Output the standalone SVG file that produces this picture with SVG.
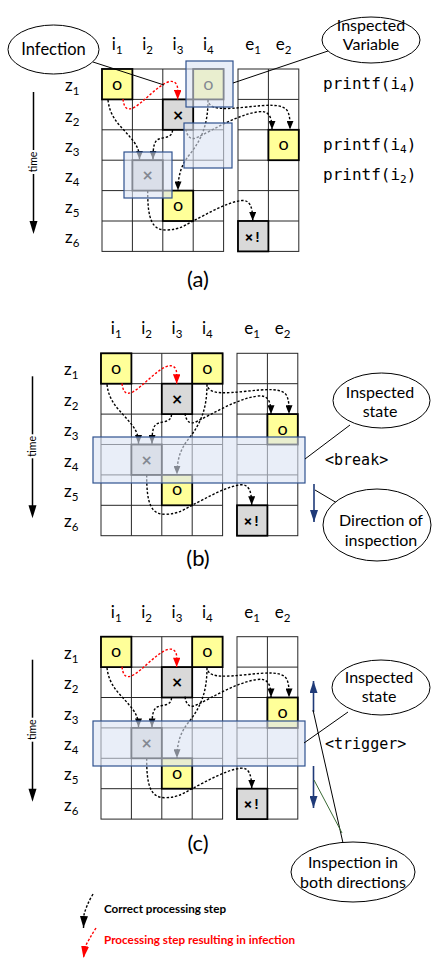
<svg xmlns="http://www.w3.org/2000/svg" width="433" height="959" viewBox="0 0 433 959">
  <style>
    .grid { fill: none; stroke: #262626; stroke-width: 1; }
    .cell-y { fill: #FFFF99; stroke: #000; stroke-width: 1.8; }
    .cell-g { fill: #D9D9D9; stroke: #000; stroke-width: 1.8; }
    .lbl { font-family: Lato, "Open Sans", "Liberation Sans", sans-serif; fill: #000; }
    .mono { font-family: "DejaVu Sans Mono", "Liberation Mono", monospace; fill: #000; }
    .mark { font-family: "DejaVu Sans", "Liberation Sans", sans-serif; font-weight: bold; fill: #000; }
    .flow { fill: none; stroke: #000; stroke-width: 1.4; stroke-dasharray: 2.4 1.8; }
    .flow-red { stroke: #FF0000; }
    .hl { fill: #DAE3F3; fill-opacity: 0.6; stroke: #2F528F; stroke-width: 1.2; }
    .call { fill: #fff; stroke: #000; stroke-width: 1; }
    .lead { fill: none; stroke: #000; stroke-width: 1; }
    .dir { stroke: #1F3A78; stroke-width: 1.6; }
  </style>
  <defs>
    <marker id="ah" viewBox="0 0 10 8" refX="10" refY="4" markerWidth="9" markerHeight="7" markerUnits="userSpaceOnUse" orient="auto">
      <path d="M0,0 L10,4 L0,8 z" fill="#000"/>
    </marker>
    <marker id="ah-red" viewBox="0 0 10 8" refX="10" refY="4" markerWidth="10" markerHeight="7.5" markerUnits="userSpaceOnUse" orient="auto">
      <path d="M0,0 L10,4 L0,8 z" fill="#FF0000"/>
    </marker>
    <marker id="ah-leg" viewBox="0 0 12 8" refX="12" refY="4" markerWidth="12" markerHeight="8" markerUnits="userSpaceOnUse" orient="auto">
      <path d="M0,0 L12,4 L0,8 z" fill="#000"/>
    </marker>
    <marker id="ah-leg-red" viewBox="0 0 12 8" refX="12" refY="4" markerWidth="12" markerHeight="8" markerUnits="userSpaceOnUse" orient="auto">
      <path d="M0,0 L12,4 L0,8 z" fill="#FF0000"/>
    </marker>
    <marker id="ah-navy" viewBox="0 0 12 8" refX="12" refY="4" markerWidth="12" markerHeight="8" markerUnits="userSpaceOnUse" orient="auto">
      <path d="M0,0 L12,4 L0,8 z" fill="#1F3A78"/>
    </marker>

    <!-- One execution grid: inputs i1..i4, outputs e1..e2, time steps z1..z6 -->
    <g id="exec-grid">
      <g id="time-axis" class="lbl">
        <line x1="-68.5" y1="23" x2="-68.5" y2="81" stroke="#000" stroke-width="1.5"/>
        <line x1="-68.5" y1="105" x2="-68.5" y2="153" stroke="#000" stroke-width="1.5"/>
        <polygon points="-72.5,152 -64.5,152 -68.5,165" fill="#000"/>
        <text transform="translate(-65,93) rotate(-90)" text-anchor="middle" font-size="10.5">time</text>
      </g>
      <g id="col-heads" class="lbl" font-size="17" text-anchor="middle">
        <text x="15.2" y="-19">i<tspan font-size="11.5" dy="4">1</tspan></text>
        <text x="45.6" y="-19">i<tspan font-size="11.5" dy="4">2</tspan></text>
        <text x="76" y="-19">i<tspan font-size="11.5" dy="4">3</tspan></text>
        <text x="106.4" y="-19">i<tspan font-size="11.5" dy="4">4</tspan></text>
        <text x="151.2" y="-19">e<tspan font-size="11.5" dy="4">1</tspan></text>
        <text x="181.6" y="-19">e<tspan font-size="11.5" dy="4">2</tspan></text>
      </g>
      <g id="row-heads" class="lbl" font-size="17">
        <text x="-37" y="22">z<tspan font-size="11.5" dy="4">1</tspan></text>
        <text x="-37" y="52.5">z<tspan font-size="11.5" dy="4">2</tspan></text>
        <text x="-37" y="83">z<tspan font-size="11.5" dy="4">3</tspan></text>
        <text x="-37" y="113.4">z<tspan font-size="11.5" dy="4">4</tspan></text>
        <text x="-37" y="143.8">z<tspan font-size="11.5" dy="4">5</tspan></text>
        <text x="-37" y="174.2">z<tspan font-size="11.5" dy="4">6</tspan></text>
      </g>
      <g id="grid-lines" class="grid">
        <rect x="0" y="0" width="121.6" height="182.4"/>
        <path d="M30.4,0V182.4M60.8,0V182.4M91.2,0V182.4M0,30.4H121.6M0,60.8H121.6M0,91.2H121.6M0,121.6H121.6M0,152H121.6"/>
        <rect x="136" y="0" width="60.8" height="182.4"/>
        <path d="M166.4,0V182.4M136,30.4H196.8M136,60.8H196.8M136,91.2H196.8M136,121.6H196.8M136,152H196.8"/>
      </g>
      <g id="cells">
        <g id="cell-i1-z1"><rect class="cell-y" x="0" y="0" width="30.4" height="30.4"/><text class="lbl" x="15.2" y="20.5" font-size="18" text-anchor="middle">o</text></g>
        <g id="cell-i4-z1"><rect class="cell-y" x="91.2" y="0" width="30.4" height="30.4"/><text class="lbl" x="106.4" y="20.5" font-size="18" text-anchor="middle">o</text></g>
        <g id="cell-i3-z2"><rect class="cell-g" x="60.8" y="30.4" width="30.4" height="30.4"/><text class="mark" x="76" y="50.5" font-size="14" text-anchor="middle">×</text></g>
        <g id="cell-e2-z3"><rect class="cell-y" x="166.4" y="60.8" width="30.4" height="30.4"/><text class="lbl" x="181.6" y="81.3" font-size="18" text-anchor="middle">o</text></g>
        <g id="cell-i2-z4"><rect class="cell-g" x="30.4" y="91.2" width="30.4" height="30.4"/><text class="mark" x="45.6" y="111.3" font-size="14" text-anchor="middle">×</text></g>
        <g id="cell-i3-z5"><rect class="cell-y" x="60.8" y="121.6" width="30.4" height="30.4"/><text class="lbl" x="76" y="142.1" font-size="18" text-anchor="middle">o</text></g>
        <g id="cell-e1-z6"><rect class="cell-g" x="136" y="152" width="30.4" height="30.4"/><text class="mono" x="151.2" y="172.5" font-size="14" font-weight="bold" text-anchor="middle">×!</text></g>
      </g>
      <g id="steps">
        <path class="flow flow-red" d="M21,30 C22,39 25,42 32,38.5 C42,33 55,17 66,13 C72,11 75.7,14 75.7,21 L75.7,30.4" marker-end="url(#ah-red)"/>
        <path class="flow" d="M6,31 C8,50 20,58 28,68 C34,75 37.5,80 37.5,90.5" marker-end="url(#ah)"/>
        <path class="flow" d="M70.5,61 C70.5,69 62,68 57,70 C52,72 51,78 51,90.5" marker-end="url(#ah)"/>
        <path class="flow" d="M106,31 C106,55 100,70 88,85 C80,95 76,105 76,121.2" marker-end="url(#ah)"/>
        <path class="flow" d="M107,34 C110,41 125,40 145,38 C165,36 182,34 186,43 C188,48 188,52 188,60.6" marker-end="url(#ah)"/>
        <path class="flow" d="M84,60 C85,68 89,72 96,68 C111,61 135,46 155,43 C166,41 170,46 170,60.6" marker-end="url(#ah)"/>
        <path class="flow" d="M45.7,121.6 C45.5,150 50,161 64,161 C78,161 85,155 91,152 C105,145 125,133 140,131.5 C148,131 150.7,138 150.7,151.8" marker-end="url(#ah)"/>
      </g>
    </g>
  </defs>

  <!-- (a) inspected variables -->
  <g id="panel-a" transform="translate(102,69)">
    <use href="#exec-grid"/>
  </g>
  <g id="panel-a-marks">
    <rect class="hl" x="186" y="61" width="47" height="46"/>
    <rect class="hl" x="184" y="123" width="48" height="45"/>
    <rect class="hl" x="124" y="152" width="48" height="46"/>
    <g class="mono" font-size="16">
      <text x="323" y="89">printf(i<tspan font-size="11" dy="3">4</tspan><tspan dy="-3">)</tspan></text>
      <text x="323" y="150">printf(i<tspan font-size="11" dy="3">4</tspan><tspan dy="-3">)</tspan></text>
      <text x="323" y="180">printf(i<tspan font-size="11" dy="3">2</tspan><tspan dy="-3">)</tspan></text>
    </g>
    <g id="note-infection">
      <line class="lead" x1="93" y1="62" x2="164" y2="85"/>
      <ellipse class="call" cx="53.5" cy="49.5" rx="45.5" ry="24.5"/>
      <text class="lbl" x="53.5" y="55" font-size="16.5" text-anchor="middle">Infection</text>
    </g>
    <g id="note-inspected-variable">
      <line class="lead" x1="328" y1="51" x2="233" y2="83"/>
      <ellipse class="call" cx="371" cy="40" rx="49" ry="23"/>
      <text class="lbl" x="371" y="31" font-size="16" text-anchor="middle">Inspected</text>
      <text class="lbl" x="371" y="50" font-size="16" text-anchor="middle">Variable</text>
    </g>
    <text class="lbl" x="198" y="287" font-size="22" text-anchor="middle">(a)</text>
  </g>

  <!-- (b) breakpoint, forward inspection -->
  <g id="panel-b" transform="translate(101,353.3)">
    <use href="#exec-grid"/>
  </g>
  <g id="panel-b-marks">
    <rect class="hl" x="93" y="437" width="212" height="46"/>
    <text class="mono" x="325" y="465" font-size="15">&lt;break&gt;</text>
    <g id="note-state-b">
      <line class="lead" x1="350" y1="425" x2="305" y2="459"/>
      <ellipse class="call" cx="381.5" cy="400.5" rx="48.5" ry="27.5"/>
      <text class="lbl" x="380" y="398" font-size="16" text-anchor="middle">Inspected</text>
      <text class="lbl" x="380" y="417" font-size="16" text-anchor="middle">state</text>
    </g>
    <line class="dir" x1="314" y1="484" x2="314" y2="522" marker-end="url(#ah-navy)"/>
    <g id="note-direction">
      <line class="lead" x1="315" y1="490" x2="337" y2="503"/>
      <ellipse class="call" cx="377" cy="525" rx="54" ry="36"/>
      <text class="lbl" x="381" y="526" font-size="16" text-anchor="middle">Direction of</text>
      <text class="lbl" x="381" y="546" font-size="16" text-anchor="middle">inspection</text>
    </g>
    <text class="lbl" x="198" y="566" font-size="22" text-anchor="middle">(b)</text>
  </g>

  <!-- (c) trigger, inspection in both directions -->
  <g id="panel-c" transform="translate(101,636.7)">
    <use href="#exec-grid"/>
  </g>
  <g id="panel-c-marks">
    <rect class="hl" x="93" y="721" width="212" height="45"/>
    <text class="mono" x="325" y="749" font-size="15">&lt;trigger&gt;</text>
    <g id="note-state-c">
      <line class="lead" x1="348" y1="712" x2="304" y2="743"/>
      <ellipse class="call" cx="381" cy="687.5" rx="49" ry="27.5"/>
      <text class="lbl" x="379" y="683" font-size="16" text-anchor="middle">Inspected</text>
      <text class="lbl" x="379" y="702" font-size="16" text-anchor="middle">state</text>
    </g>
    <line class="dir" x1="313.5" y1="712" x2="313.5" y2="681" marker-end="url(#ah-navy)"/>
    <line class="dir" x1="313.5" y1="766" x2="313.5" y2="808" marker-end="url(#ah-navy)"/>
    <g id="note-both">
      <line class="lead" x1="313" y1="710" x2="343" y2="843"/>
      <line x1="314" y1="780" x2="342" y2="833" stroke="#3A6B35" stroke-width="1"/>
      <ellipse class="call" cx="353" cy="872" rx="62" ry="30"/>
      <text class="lbl" x="353" y="868" font-size="16" text-anchor="middle">Inspection in</text>
      <text class="lbl" x="353" y="888" font-size="16" text-anchor="middle">both directions</text>
    </g>
    <text class="lbl" x="198" y="851" font-size="22" text-anchor="middle">(c)</text>
  </g>

  <!-- legend -->
  <g id="legend">
    <path class="flow" d="M93,894 Q86,906 84,915 L83.5,928" marker-end="url(#ah-leg)"/>
    <text class="lbl" x="104" y="913" font-size="12" font-weight="bold" textLength="122" lengthAdjust="spacingAndGlyphs">Correct processing step</text>
    <path class="flow flow-red" d="M96,928 Q89,939 85,947 L83.5,958" marker-end="url(#ah-leg-red)"/>
    <text class="lbl" x="104" y="944" font-size="12" font-weight="bold" style="fill:#FF0000" textLength="191" lengthAdjust="spacingAndGlyphs">Processing step resulting in infection</text>
  </g>
</svg>
